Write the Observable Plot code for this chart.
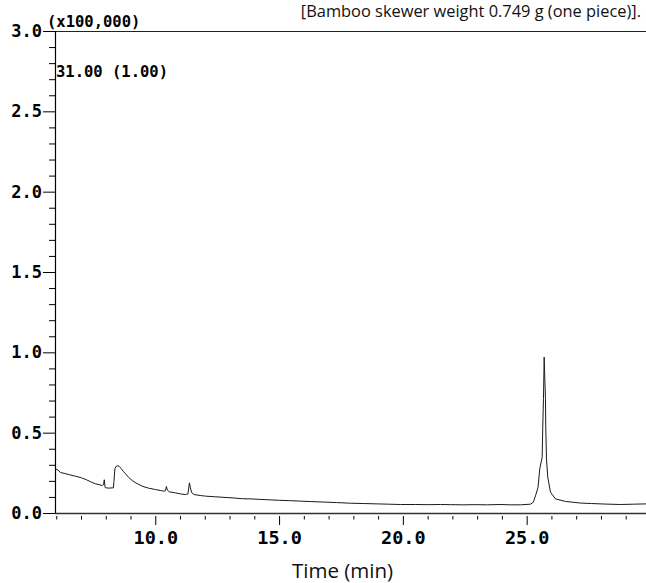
<!DOCTYPE html>
<html><head><meta charset="utf-8">
<script src="https://cdn.jsdelivr.net/npm/d3@7"></script>
<script src="https://cdn.jsdelivr.net/npm/@observablehq/plot@0.6"></script>
<style>
body{margin:0;background:#fff}
#chart{position:relative;width:646px;height:583px}
#labels{position:absolute;left:0;top:0;width:646px;height:583px;pointer-events:none}
.mono{font-family:"DejaVu Sans Mono",monospace;font-weight:bold;font-size:15.5px;fill:#000}
.sans{font-family:"Open Sans",sans-serif;fill:#111}
</style>
</head><body><div id="chart"></div>
<script>
// Retention time (min)
const times = [5.95,6.05,6.15,6.3,6.5,6.76,7.0,7.2,7.4,7.56,7.75,7.84,7.89,7.92,7.95,7.97,8.1,8.29,8.31,8.35,8.41,8.47,8.53,8.6,8.7,8.78,8.9,9.05,9.2,9.45,9.7,9.99,10.2,10.32,10.39,10.43,10.47,10.55,10.8,11.0,11.2,11.3,11.36,11.4,11.45,11.55,11.8,12.01,12.4,12.8,13.2,13.5,13.82,14.2,14.6,15.0,15.4,15.84,16.3,16.8,17.3,17.86,18.4,18.9,19.4,19.88,20.5,21.0,21.5,21.9,22.4,22.9,23.4,23.9,24.3,24.73,25.13,25.25,25.335,25.436,25.509,25.606,25.63,25.659,25.687,25.705,25.739,25.752,25.78,25.832,25.941,26.143,26.547,27.153,27.6,28.1,28.768,29.3,29.82];
// Intensity (x100,000)
const intensities = [0.278,0.27,0.255,0.25,0.242,0.232,0.222,0.21,0.195,0.185,0.178,0.174,0.18,0.21,0.165,0.16,0.158,0.16,0.2,0.28,0.295,0.297,0.293,0.28,0.26,0.247,0.225,0.205,0.19,0.17,0.158,0.149,0.143,0.139,0.142,0.168,0.145,0.135,0.128,0.122,0.118,0.122,0.191,0.16,0.13,0.118,0.112,0.108,0.104,0.1,0.096,0.092,0.091,0.088,0.085,0.082,0.08,0.077,0.074,0.071,0.068,0.064,0.062,0.06,0.058,0.056,0.056,0.055,0.056,0.055,0.054,0.055,0.054,0.056,0.054,0.054,0.058,0.07,0.11,0.16,0.278,0.35,0.537,0.716,0.973,0.88,0.716,0.537,0.34,0.226,0.133,0.091,0.075,0.065,0.062,0.059,0.056,0.058,0.06];

const yMajor = [0, 0.5, 1.0, 1.5, 2.0, 2.5, 3.0];
const yMinor = [0.1,0.2,0.3,0.4,0.6,0.7,0.8,0.9,1.1,1.2,1.3,1.4,1.6,1.7,1.8,1.9,2.1,2.2,2.3,2.4,2.6,2.7,2.8,2.9];
const xMajor = [10, 15, 20, 25];
const xMinor = [6,7,8,9,11,12,13,14,16,17,18,19,21,22,23,24,26,27,28,29];
const xDomain = [5.95, 29.82];

const scaleLabel = "(x100,000)";
const ionLabel = "31.00 (1.00)";
const noteLabel = "[Bamboo skewer weight 0.749 g (one piece)].";
const xTitle = "Time (min)";

const data = times.map((t, i) => ({t, v: intensities[i]}));

const plot = Plot.plot({
  width: 646, height: 583,
  marginLeft: 55, marginRight: 0, marginTop: 31, marginBottom: 70,
  x: {domain: xDomain},
  y: {domain: [0, 3]},
  style: {background: "white", overflow: "visible"},
  marks: [
    Plot.ruleY([0], {stroke: "#333", strokeWidth: 1.6}),
    Plot.ruleY([3], {stroke: "#222", strokeWidth: 1.2}),
    Plot.ruleX([xDomain[0]], {stroke: "#000", strokeWidth: 1.2}),
    Plot.axisY({ticks: yMinor, tickSize: 6, tickFormat: () => "", label: null, stroke: "#000"}),
    Plot.axisY({ticks: yMajor, tickSize: 12, tickPadding: 1.5, tickFormat: d => d.toFixed(1), label: null, stroke: "#000", fill: "#000", fontFamily: "DejaVu Sans Mono", fontWeight: "bold", fontSize: 17}),
    Plot.axisX({ticks: xMinor, tickSize: 3.5, dy: 3, tickFormat: () => "", label: null, stroke: "#000"}),
    Plot.axisX({ticks: xMajor, tickSize: 9, dy: 3, tickPadding: 5, tickFormat: d => d.toFixed(1), label: null, stroke: "#000", fill: "#000", fontFamily: "DejaVu Sans Mono", fontWeight: "bold", fontSize: 18.5}),
    Plot.line(data, {x: "t", y: "v", stroke: "#1a1a1a", strokeWidth: 1})
  ]
});
const chart = document.getElementById("chart");
chart.appendChild(plot);

// annotation layer (titles/labels placed around the plot frame)
const ns = "http://www.w3.org/2000/svg";
const layer = document.createElementNS(ns, "svg");
layer.setAttribute("id", "labels");
layer.setAttribute("width", 646);
layer.setAttribute("height", 583);
function addText(str, cls, x, y, anchor, size) {
  const t = document.createElementNS(ns, "text");
  t.setAttribute("class", cls);
  t.setAttribute("x", x);
  t.setAttribute("y", y);
  t.setAttribute("text-anchor", anchor);
  if (size) t.setAttribute("font-size", size);
  t.textContent = str;
  layer.appendChild(t);
}
addText(scaleLabel, "mono", 47, 27, "start");
addText(ionLabel, "mono", 56, 77, "start");
addText(noteLabel, "sans", 641, 17, "end", 16.4);
addText(xTitle, "sans", 342.5, 578, "middle", 20.5);
chart.appendChild(layer);
</script>
</body></html>
